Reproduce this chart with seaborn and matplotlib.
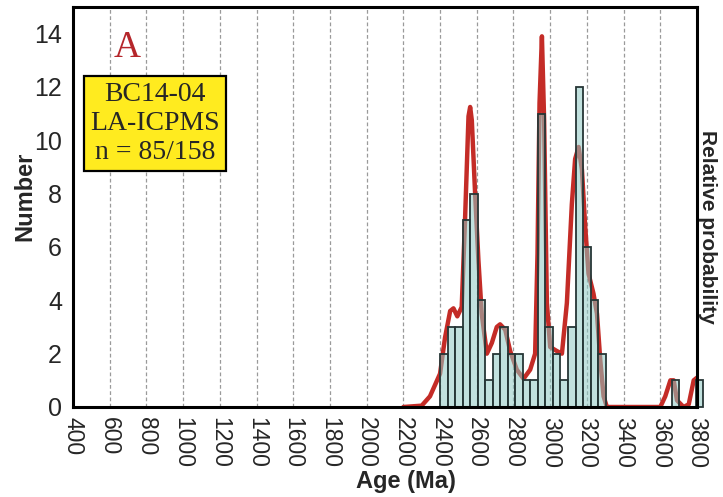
import numpy as np
import matplotlib
matplotlib.use("Agg")
import matplotlib.pyplot as plt
import seaborn as sns
from matplotlib.ticker import MultipleLocator

# Detrital zircon U-Pb ages, sample BC14-04 (LA-ICPMS, n = 85/158)
# Histogram bins (Ma): lower edge of each occupied bin, common width
bin_start = [2400, 2441, 2482, 2523, 2564, 2605, 2646, 2687, 2728, 2769, 2810,
             2851, 2892, 2933, 2974, 3015, 3056, 3097, 3138, 3179, 3220, 3261,
             3662, 3794]
bin_width = 41
counts = [2, 3, 3, 7, 8, 4, 1, 2, 3, 2, 2,
          1, 1, 11, 3, 2, 1, 3, 12, 6, 4, 2,
          1, 1]

# Probability density curve, scaled to the count axis
curve_age = [2200, 2300, 2345, 2400, 2427, 2455, 2473, 2494, 2518, 2536, 2555,
             2564, 2573, 2591, 2609, 2627, 2655, 2682, 2709, 2727, 2755, 2782,
             2818, 2855, 2891, 2918, 2931, 2942, 2955, 2967, 2982, 3000, 3036,
             3064, 3091, 3118, 3136, 3155, 3173, 3191, 3209, 3236, 3255, 3273,
             3291, 3309, 3600, 3627, 3655, 3673, 3691, 3727, 3755, 3782, 3800]
curve_val = [0, 0.05, 0.4, 1.25, 2.6, 3.6, 3.7, 3.4, 3.75, 7.0, 10.9,
             11.25, 10.75, 8.0, 5.5, 3.5, 2.0, 2.4, 3.0, 3.1, 2.9, 2.1,
             1.4, 1.06, 1.4, 2.0, 5.75, 11.4, 13.9, 10.75, 3.9, 2.25, 2.1,
             2.0, 3.9, 7.6, 9.3, 9.75, 8.9, 6.75, 5.0, 4.25, 3.5, 1.75,
             0.4, 0.0, 0.0, 0.4, 1.0, 1.0, 0.25, 0.0, 0.1, 1.0, 1.1]

x_ticks = [400, 600, 800, 1000, 1200, 1400, 1600, 1800, 2000, 2200, 2400,
           2600, 2800, 3000, 3200, 3400, 3600, 3800]
y_ticks = [0, 2, 4, 6, 8, 10, 12, 14]

sns.set_style("white")
plt.rcParams["font.family"] = ["Liberation Sans", "DejaVu Sans"]

W, H = 723, 497
fig = plt.figure(figsize=(W / 100, H / 100), dpi=100)
ax = fig.add_axes([73 / W, 1 - 407 / H, (697 - 73) / W, 400 / H])

# probability curve (beneath the translucent bars)
sns.lineplot(x=curve_age, y=curve_val, ax=ax, color="#c42c27", linewidth=3.2,
             sort=False, zorder=2, solid_joinstyle="round", solid_capstyle="round")

# histogram
edges = []
for s in bin_start:
    for e in (s, s + bin_width):
        if not edges or e != edges[-1]:
            edges.append(e)
centers = [s + bin_width / 2 for s in bin_start]
sns.histplot(x=centers, weights=counts, bins=edges, ax=ax,
             color="#8fcac4", alpha=0.55, edgecolor="#263636", linewidth=1.3,
             zorder=3)
for p in ax.patches:
    if p.get_height() == 0:
        p.set_visible(False)
    else:
        p.set_clip_on(False)

ax.set_xlim(400, 3800)
ax.set_ylim(0, 15)
ax.set_xticks(x_ticks)
ax.set_xticklabels([str(t) for t in x_ticks])
ax.set_yticks(y_ticks)
ax.xaxis.set_minor_locator(MultipleLocator(40))
ax.yaxis.set_minor_locator(MultipleLocator(1))

ax.xaxis.grid(True, which="major", linestyle=(0, (3, 2)), color="#9a9a9a",
              linewidth=0.9, zorder=0)
ax.yaxis.grid(False)
ax.set_axisbelow(True)

for side in ["left", "right", "top", "bottom"]:
    ax.spines[side].set_visible(True)
    ax.spines[side].set_color("black")
    ax.spines[side].set_linewidth(2.2)
    ax.spines[side].set_zorder(5)

ax.tick_params(axis="x", which="major", direction="out", length=6, width=1.5,
               labelsize=16.5, labelrotation=-90, pad=1)
ax.tick_params(axis="x", which="minor", direction="in", length=4, width=1.2)
ax.tick_params(axis="y", which="major", direction="out", length=6, width=1.5,
               labelsize=18, pad=2)
ax.tick_params(axis="y", which="minor", direction="out", length=3, width=1.2)

ax.set_xlabel("Age (Ma)", fontsize=17, fontweight="bold")
ax.xaxis.set_label_coords((406 - 73) / 624, -0.1575)
ax.set_ylabel("Number", fontsize=17, fontweight="bold")
ax.yaxis.set_label_coords(-0.059, (407 - 196) / 400)
fig.text(707 / W, 1 - 227 / H, "Relative probability", rotation=-90,
         ha="center", va="center", fontsize=15, fontweight="bold")

ax.text(0.087, 0.897, "A", transform=ax.transAxes, color="#b5262b",
        family="Liberation Serif", fontsize=27, ha="center", va="center")
ax.text(0.131, 0.709, "BC14-04\nLA-ICPMS\nn = 85/158", transform=ax.transAxes,
        family="Liberation Serif", fontsize=20, ha="center", va="center",
        linespacing=1.22, zorder=6,
        bbox=dict(boxstyle="square,pad=0.22", fc="#ffeb1f", ec="black", lw=1.6))

fig.savefig("out.png", dpi=100)
